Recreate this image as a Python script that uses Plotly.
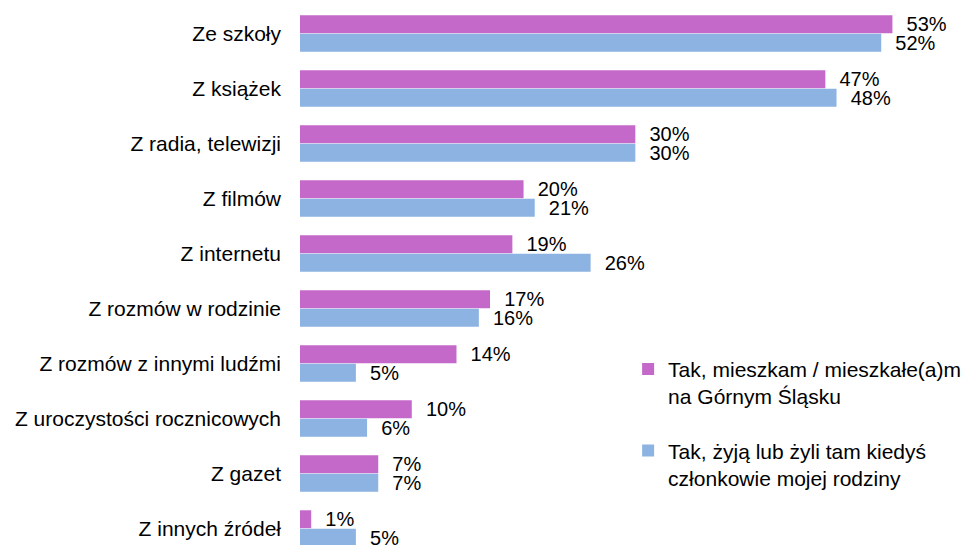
import plotly.graph_objects as go

categories = [
    "Ze szkoły", "Z książek", "Z radia, telewizji", "Z filmów", "Z internetu",
    "Z rozmów w rodzinie", "Z rozmów z innymi ludźmi", "Z uroczystości rocznicowych",
    "Z gazet", "Z innych źródeł",
]
series_names = [
    "Tak, mieszkam / mieszkałe(a)m<br>na Górnym Śląsku",
    "Tak, żyją lub żyli tam kiedyś<br>członkowie mojej rodziny",
]
mieszkam = [53, 47, 30, 20, 19, 17, 14, 10, 7, 1]
rodzina = [52, 48, 30, 21, 26, 16, 5, 6, 7, 5]
colors = ["#C469C9", "#8DB3E2"]

FONT = "Arial, Liberation Sans, sans-serif"
FS_VAL = 20
FS_TXT = 21

fig = go.Figure()
for i, (name, vals) in enumerate(zip(series_names, [mieszkam, rodzina])):
    fig.add_trace(go.Bar(
        y=categories, x=vals, name=name, orientation="h",
        marker=dict(color=colors[i], line=dict(width=0)),
        text=vals, texttemplate="\u00a0\u00a0%{x}%", textposition="outside",
        constraintext="none", cliponaxis=False,
        textfont=dict(family=FONT, size=FS_VAL, color="#000000"),
        legendgroup=f"g{i}", hoverinfo="skip",
    ))

fig.update_layout(
    width=971, height=545,
    margin=dict(l=300, r=0, t=6, b=0),
    paper_bgcolor="white", plot_bgcolor="white",
    barmode="group", bargap=0.327, bargroupgap=0.03,
    font=dict(family=FONT, size=FS_TXT, color="#000000"),
    showlegend=True,
    legend=dict(
        x=0.489, y=0.364, xanchor="left", yanchor="top",
        traceorder="grouped", tracegroupgap=24, valign="top",
        font=dict(family=FONT, size=FS_TXT, color="#000000"),
        bgcolor="rgba(0,0,0,0)",
    ),
    xaxis=dict(range=[0, 60.03], visible=False, showgrid=False, zeroline=False),
    yaxis=dict(
        categoryorder="array", categoryarray=categories,
        range=[9.3, -0.5], showgrid=False, zeroline=False, showline=False,
        ticks="", ticklabelstandoff=18,
        tickfont=dict(family=FONT, size=FS_TXT, color="#000000"),
    ),
)

fig.write_html(
    "out.html",
    config={"displayModeBar": False},
    post_script="document.body.style.margin='0';document.body.style.overflow='hidden';",
)
